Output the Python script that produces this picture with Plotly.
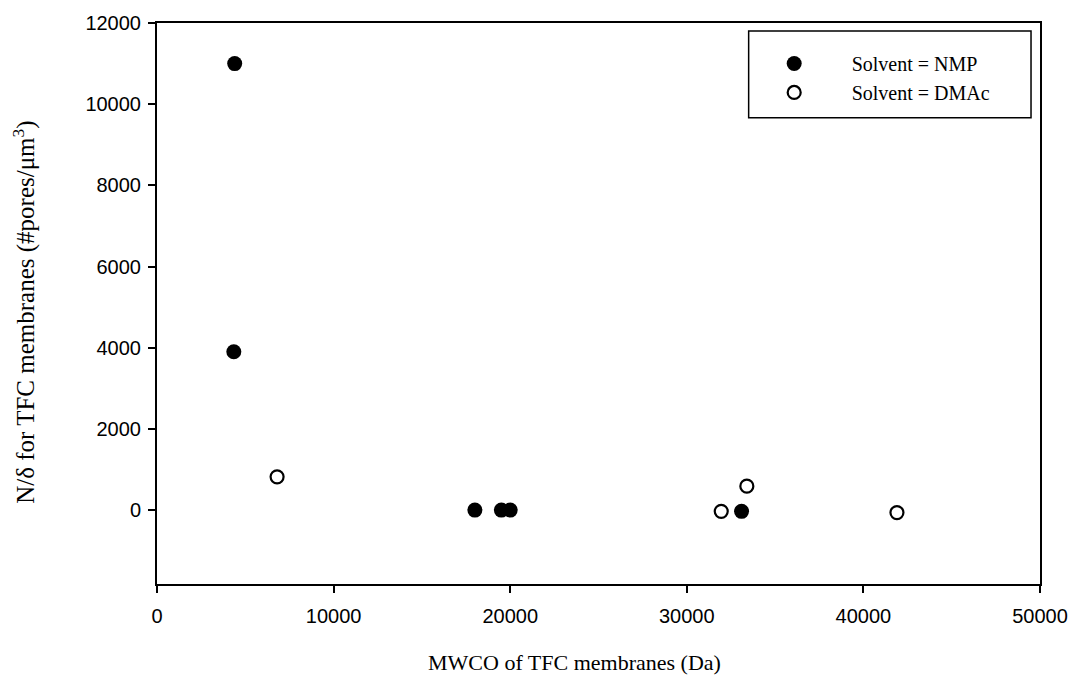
import plotly.graph_objects as go

# Data
nmp_mwco = [4400, 4350, 18000, 19500, 20000, 33100]
nmp_ndelta = [11000, 3900, 0, 0, 0, -30]

dmac_mwco = [6800, 31950, 33400, 41900]
dmac_ndelta = [820, -30, 590, -60]

x_ticks = [0, 10000, 20000, 30000, 40000, 50000]
y_ticks = [0, 2000, 4000, 6000, 8000, 10000, 12000]

SERIF = "Liberation Serif, Times New Roman, serif"
SANS = "Liberation Sans, Arial, sans-serif"

fig = go.Figure()
fig.add_trace(go.Scatter(
    x=nmp_mwco, y=nmp_ndelta, mode="markers", name="Solvent = NMP",
    marker=dict(symbol="circle", size=15, color="black", line=dict(width=0)),
))
fig.add_trace(go.Scatter(
    x=dmac_mwco, y=dmac_ndelta, mode="markers", name="Solvent = DMAc",
    marker=dict(symbol="circle-open", size=13, color="black", line=dict(width=2.2, color="black")),
))

axis_common = dict(
    showline=True, linecolor="black", linewidth=2, mirror=True,
    ticks="outside", ticklen=7, tickwidth=2, tickcolor="black",
    showgrid=False, zeroline=False,
    tickfont=dict(family=SANS, size=20, color="black"),
)

fig.update_xaxes(
    range=[0, 50000], tickvals=x_ticks, ticktext=[str(v) for v in x_ticks],
    ticklabelstandoff=6,
    **axis_common,
)
fig.update_yaxes(
    range=[-1820, 12000], tickvals=y_ticks, ticktext=[str(v) for v in y_ticks],
    ticklabelstandoff=3,
    **axis_common,
)

# Axis titles placed to match reference positions
fig.add_annotation(
    text="MWCO of TFC membranes (Da)", xref="paper", yref="paper",
    x=(575 - 157) / 885, y=-(663 - 584) / 562, xanchor="center", yanchor="middle",
    showarrow=False, font=dict(family=SERIF, size=22, color="black"),
)
fig.add_annotation(
    text="N/δ for TFC membranes (#pores/μm<sup>3</sup>)", xref="paper", yref="paper",
    x=-(157 - 24) / 885, y=(584 - 312) / 562, xanchor="center", yanchor="middle",
    textangle=-90, showarrow=False, font=dict(family=SERIF, size=25, color="black"),
)

# Legend frame
fig.add_shape(
    type="rect", xref="paper", yref="paper",
    x0=(750 - 157) / 885, x1=(1033 - 157) / 885,
    y0=(584 - 117) / 562, y1=(584 - 30) / 562,
    line=dict(color="black", width=1.5), fillcolor="rgba(0,0,0,0)",
)

fig.update_layout(
    width=1080, height=681,
    margin=dict(l=157, r=38, t=22, b=97),
    paper_bgcolor="white", plot_bgcolor="white",
    showlegend=True,
    legend=dict(
        x=(738 - 157) / 885, y=(584 - 43) / 562, xanchor="left", yanchor="top",
        borderwidth=0, bgcolor="rgba(0,0,0,0)",
        font=dict(family=SERIF, size=20, color="black"),
        itemwidth=105, tracegroupgap=0,
    ),
)

fig.write_html("out.html")
